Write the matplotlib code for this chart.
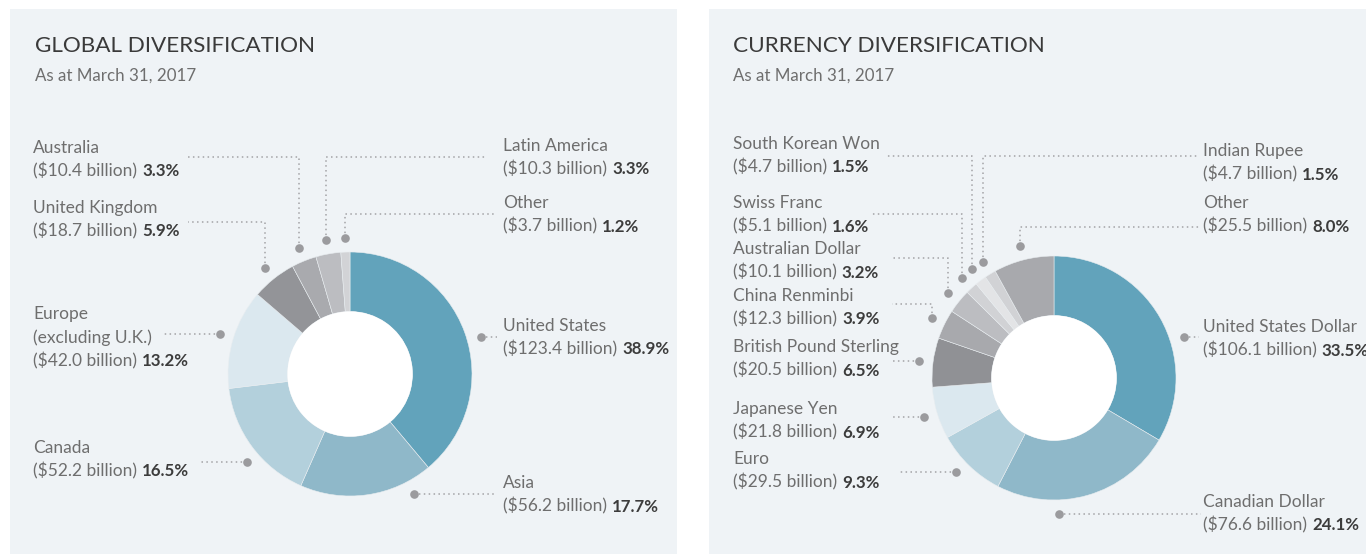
import numpy as np
import matplotlib
matplotlib.use('Agg')
import matplotlib.pyplot as plt
from matplotlib.patches import Rectangle, Circle

plt.rcParams['font.family'] = ['Lato', 'DejaVu Sans']

W, H = 1366, 554

# Global diversification, clockwise from 12 o'clock
global_names = ['United States', 'Asia', 'Canada', 'Europe\n(excluding U.K.)',
                'United Kingdom', 'Australia', 'Latin America', 'Other']
global_billions = [123.4, 56.2, 52.2, 42.0, 18.7, 10.4, 10.3, 3.7]
global_pct = [38.9, 17.7, 16.5, 13.2, 5.9, 3.3, 3.3, 1.2]

# Currency diversification, clockwise from 12 o'clock
currency_names = ['United States Dollar', 'Canadian Dollar', 'Euro', 'Japanese Yen',
                  'British Pound Sterling', 'China Renminbi', 'Australian Dollar',
                  'Swiss Franc', 'South Korean Won', 'Indian Rupee', 'Other']
currency_billions = [106.1, 76.6, 29.5, 21.8, 20.5, 12.3, 10.1, 5.1, 4.7, 4.7, 25.5]
currency_pct = [33.5, 24.1, 9.3, 6.9, 6.5, 3.9, 3.2, 1.6, 1.5, 1.5, 8.0]

global_colors = ['#62a3bb', '#8fb8c9', '#b3d0dc', '#dbe8ef',
                 '#939498', '#a9aaae', '#bcbdc1', '#d2d3d6']
currency_colors = ['#62a3bb', '#8fb8c9', '#b3d0dc', '#dbe8ef', '#909195', '#a8a9ad',
                   '#bcbdc1', '#d1d2d5', '#e3e4e6', '#d1d2d5', '#a8a9ad']

# label layout (pixel coords, y from top): text x, first baseline, leader y, leader end, dot angle shift
g_tx = [503, 503, 33, 33, 33, 33, 503, 503]
g_ty = [331, 488, 453, 319, 213, 153, 151, 208]
g_ly = [None, None, None, None, 222, 157, 157, 214]
g_le = [497, 497, 200, 162, 188, 188, 487, 497]
g_sh = [4, -20, -4, 0, 0, 0, 0, 0]

c_tx = [1203, 1203, 733, 733, 733, 733, 733, 733, 733, 1203, 1203]
c_ty = [332, 507, 464, 414, 352, 301, 254, 208, 149, 156, 208]
c_ly = [None, None, None, None, None, 304, 258, 214, 156, 156, 227]
c_le = [1199, 1201, 900, 892, 892, 892, 892, 872, 885, 1197, 1201]
c_sh = [12, 14, 2, 0, 0, 0, 0, 0, 0, 0, 0]

BG = '#eff3f6'
TXT = '#6e6e6e'
DARK = '#3c3c3c'
LINE = '#a3a3a6'
R_OUT, R_IN, R_DOT = 122, 62.5, 136
LINE_GAP = 23.5


def fy(y):
    return H - y


fig = plt.figure(figsize=(W / 100, H / 100), dpi=100)
fig.patch.set_facecolor('white')
ax = fig.add_axes([0, 0, 1, 1])
renderer = fig.canvas.get_renderer()

ax.add_patch(Rectangle((10, 0), 667, H - 9, color=BG, zorder=0, lw=0))
ax.add_patch(Rectangle((709, 0), W - 709, H - 9, color=BG, zorder=0, lw=0))


def donut(values, colors, cx, cy):
    ax.pie(values, colors=colors, startangle=90, counterclock=False, radius=R_OUT,
           center=(cx, fy(cy)), frame=True,
           wedgeprops=dict(width=R_OUT - R_IN, linewidth=0.4, edgecolor='#e8edf0'))
    ax.add_patch(Circle((cx, fy(cy)), R_IN, color='white', zorder=3, lw=0))
    ax.set_xlim(0, W)
    ax.set_ylim(0, H)


def label(x, y, name, billions, pct):
    lines = name.split('\n')
    for i, ln in enumerate(lines):
        ax.text(x, fy(y + i * LINE_GAP), ln, fontsize=12.5, color=TXT, va='baseline', ha='left')
    yb = fy(y + len(lines) * LINE_GAP)
    t = ax.text(x, yb, f'(${billions:.1f} billion)', fontsize=12.5, color=TXT,
                va='baseline', ha='left')
    x1 = t.get_window_extent(renderer=renderer).x1
    x1 = ax.transData.inverted().transform((x1, 0))[0]
    ax.text(x1 + 5, yb, f'{pct:.1f}%', fontsize=12.2, color=DARK, fontweight='bold',
            va='baseline', ha='left')


def leaders(values, cx, cy, shifts, ly, le):
    v = np.array(values, dtype=float)
    mids = (np.cumsum(v) - v / 2) / v.sum() * 360
    for m, s, y_line, x_end in zip(mids, shifts, ly, le):
        a = np.radians(m + s)
        dx = cx + R_DOT * np.sin(a)
        dy = fy(cy) + R_DOT * np.cos(a)
        if y_line is None:
            xs, ys = [dx, x_end], [dy, dy]
        else:
            xs, ys = [dx, dx, x_end], [dy, fy(y_line), fy(y_line)]
        ax.plot(xs, ys, color=LINE, lw=1.1, linestyle=(0, (1, 2.2)), zorder=2)
        ax.plot(dx, dy, 'o', ms=6.2, color='#9b9b9e', mec='none', zorder=4)


# left panel
donut(global_pct, global_colors, 350, 374)
leaders(global_pct, 350, 374, g_sh, g_ly, g_le)
ax.set_xlim(0, W)
ax.set_ylim(0, H)
for i in range(len(global_names)):
    label(g_tx[i], g_ty[i], global_names[i], global_billions[i], global_pct[i])
ax.text(35, fy(52), 'GLOBAL DIVERSIFICATION', fontsize=16.2, color='#3a3a3a', va='baseline')
ax.text(35, fy(81), 'As at March 31, 2017', fontsize=12.2, color=TXT, va='baseline')

# right panel
donut(currency_pct, currency_colors, 1054, 378)
leaders(currency_pct, 1054, 378, c_sh, c_ly, c_le)
ax.set_xlim(0, W)
ax.set_ylim(0, H)
for i in range(len(currency_names)):
    label(c_tx[i], c_ty[i], currency_names[i], currency_billions[i], currency_pct[i])
ax.text(733, fy(52), 'CURRENCY DIVERSIFICATION', fontsize=16.2, color='#3a3a3a', va='baseline')
ax.text(733, fy(81), 'As at March 31, 2017', fontsize=12.2, color=TXT, va='baseline')

ax.set_xlim(0, W)
ax.set_ylim(0, H)
ax.set_aspect('auto')
ax.axis('off')

fig.savefig('out.png', dpi=100, facecolor='white')
